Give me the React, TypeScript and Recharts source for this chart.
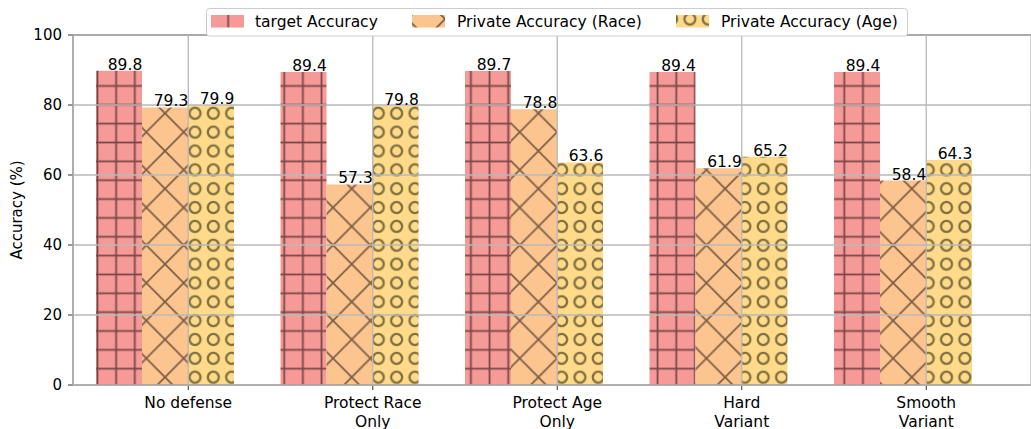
import React from 'react';
import {
    BarChart,
    Bar,
    XAxis,
    YAxis,
    CartesianGrid,
    LabelList,
    ReferenceLine,
} from 'recharts';

// values
const categories = ['No defense', 'Protect Race\nOnly', 'Protect Age\nOnly', 'Hard\nVariant', 'Smooth\nVariant'];
const targetAcc = [89.8, 89.4, 89.7, 89.4, 89.4];
const raceAcc = [79.3, 57.3, 78.8, 61.9, 58.4];
const ageAcc = [79.9, 79.8, 63.6, 65.2, 64.3];
const yTicks = [0, 20, 40, 60, 80, 100];
const seriesNames = ['target Accuracy', 'Private Accuracy (Race)', 'Private Accuracy (Age)'];

const data = categories.map((name, i) => ({
    name,
    target: targetAcc[i],
    race: raceAcc[i],
    age: ageAcc[i],
    gap: 0, // empty slot so the tick sits between race and age bars
}));

const FONT = '"DejaVu Sans", sans-serif';
const HX = 18.67;
const HY = 18.85;
const CX = 18.33;

function Patterns({ prefix }: { prefix: string }) {
    return (
        <defs>
            <pattern id={`${prefix}plus`} patternUnits="userSpaceOnUse" width={HX} height={HY} x={97.5 - HX / 2} y={293.3 - HY / 2}>
                <rect width={HX} height={HY} fill="#F69A98" />
                <line x1={HX / 2} y1={0} x2={HX / 2} y2={HY} stroke="#7A4747" strokeWidth={1.8} />
                <line x1={0} y1={HY / 2} x2={HX} y2={HY / 2} stroke="#7A4747" strokeWidth={1.8} />
            </pattern>
            <pattern id={`${prefix}cross`} patternUnits="userSpaceOnUse" width={HX * 2} height={HY * 2} x={165 - HX} y={113.3 - HY}>
                <rect width={HX * 2} height={HY * 2} fill="#FCC48F" />
                <line x1={0} y1={0} x2={HX * 2} y2={HY * 2} stroke="#7D5E45" strokeWidth={1.7} />
                <line x1={HX * 2} y1={0} x2={0} y2={HY * 2} stroke="#7D5E45" strokeWidth={1.7} />
            </pattern>
            <pattern id={`${prefix}circle`} patternUnits="userSpaceOnUse" width={CX} height={HY} x={195 - CX / 2} y={113.3 - HY / 2}>
                <rect width={CX} height={HY} fill="#FEDA8A" />
                <circle cx={CX / 2} cy={HY / 2} r={5.5} fill="none" stroke="#80703F" strokeWidth={2.3} />
            </pattern>
        </defs>
    );
}

const renderValue = (props: any) => {
    const { x, y, width, value } = props;
    return (
        <text x={x + width / 2 + 6} y={y - 1} textAnchor="middle" fontSize={15.5} fontFamily={FONT} fill="#000">
            {Number(value).toFixed(1)}
        </text>
    );
};

const XTick = (props: any) => {
    const { x, y, payload } = props;
    const lines = String(payload.value).split('\n');
    return (
        <text x={x} y={y + 16} textAnchor="middle" fontSize={15.5} fontFamily={FONT} fill="#000">
            {lines.map((l, i) => (
                <tspan key={i} x={x} dy={i === 0 ? 0 : 18.5}>{l}</tspan>
            ))}
        </text>
    );
};

const renderYLabel = () => (
    <text x={22} y={210} transform="rotate(-90 22 210)" textAnchor="middle" fontSize={15} fontFamily={FONT} fill="#000">
        Accuracy (%)
    </text>
);

function LegendBox() {
    const items = [
        { fill: 'url(#lgplus)', x: 211, tx: 255 },
        { fill: 'url(#lgcross)', x: 412, tx: 457 },
        { fill: 'url(#lgcircle)', x: 676, tx: 721 },
    ];
    return (
        <svg width={1031} height={40} style={{ position: 'absolute', left: 0, top: 0 }}>
            <Patterns prefix="lg" />
            <rect x={206.5} y={8.5} width={701} height={27.5} rx={3} fill="#fff" stroke="#cccccc" />
            {items.map((it, i) => (
                <g key={i}>
                    <rect x={it.x} y={15} width={33} height={12.5} fill={it.fill} />
                    <text x={it.tx} y={27} fontSize={15.5} fontFamily={FONT} fill="#000">{seriesNames[i]}</text>
                </g>
            ))}
        </svg>
    );
}

export default function App() {
    return (
        <div style={{ position: 'absolute', left: 0, top: 0, width: 1031, height: 429, background: '#fff' }}>
            <BarChart
                width={1031}
                height={429}
                data={data}
                margin={{ top: 35, right: 0, bottom: 0, left: 13 }}
                barCategoryGap={0}
                barGap={0}
            >
                <Patterns prefix="bar" />
                <XAxis
                    dataKey="name"
                    interval={0}
                    height={44}
                    padding={{ left: 23, right: 12.5 }}
                    tick={<XTick />}
                    tickSize={5}
                    tickLine={{ stroke: '#333' }}
                    axisLine={{ stroke: '#333' }}
                />
                <YAxis
                    type="number"
                    domain={[0, 100]}
                    ticks={yTicks}
                    width={60}
                    tickSize={5}
                    tickMargin={6}
                    tick={{ fontSize: 15, fill: '#000', fontFamily: FONT }}
                    tickLine={{ stroke: '#333' }}
                    axisLine={{ stroke: '#333' }}
                    label={{ value: 'Accuracy (%)', content: renderYLabel }}
                />
                <Bar dataKey="target" name={seriesNames[0]} fill="url(#barplus)" isAnimationActive={false}>
                    <LabelList dataKey="target" content={renderValue} />
                </Bar>
                <Bar dataKey="race" name={seriesNames[1]} fill="url(#barcross)" isAnimationActive={false}>
                    <LabelList dataKey="race" content={renderValue} />
                </Bar>
                <Bar dataKey="age" name={seriesNames[2]} fill="url(#barcircle)" isAnimationActive={false}>
                    <LabelList dataKey="age" content={renderValue} />
                </Bar>
                <Bar dataKey="gap" fill="none" isAnimationActive={false} />
                <CartesianGrid stroke="#b8b8b8" strokeWidth={1.3} zIndex={1000} />
                <ReferenceLine y={100} stroke="#000" strokeWidth={1.2} />
            </BarChart>
            <LegendBox />
        </div>
    );
}
